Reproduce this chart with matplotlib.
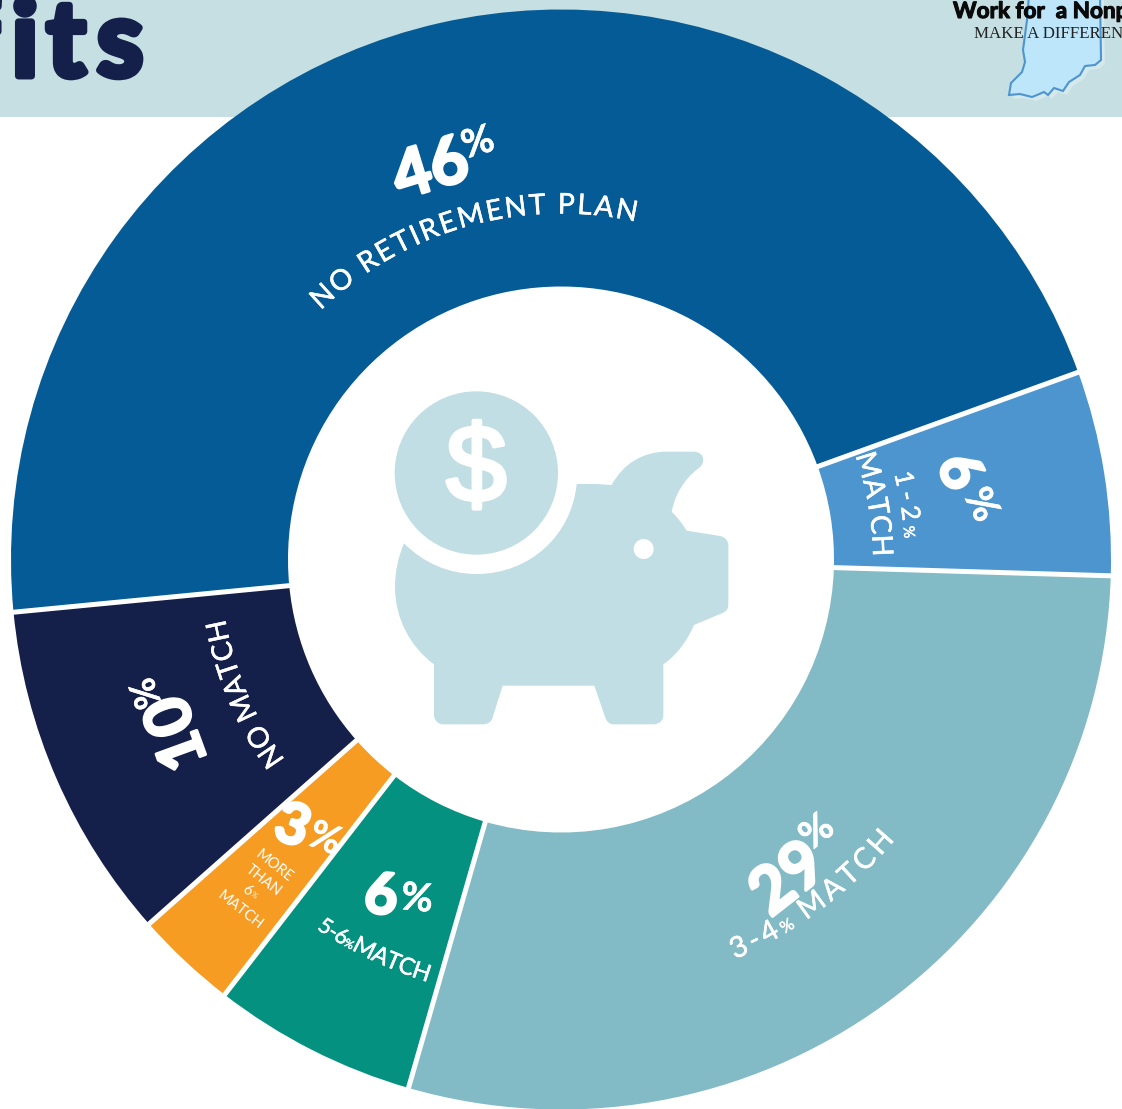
import numpy as np
import matplotlib
matplotlib.use("Agg")
import matplotlib.pyplot as plt
import matplotlib.patheffects as pe
from matplotlib.font_manager import FontProperties
from matplotlib.patches import Circle, PathPatch, Polygon, Rectangle
from matplotlib.path import Path
from matplotlib.textpath import TextPath

# Data
categories = ["NO RETIREMENT PLAN", "1-2% MATCH", "3-4% MATCH", "5-6% MATCH", "MORE THAN 6% MATCH", "NO MATCH"]
values = [46, 6, 29, 6, 3, 10]
colors = ["#045B96", "#4D95CF", "#82BAC5", "#049180", "#F69C23", "#142049"]
title_tail = "fits"
logo_line1 = "Work for  a Nonprofit"
logo_line2 = "MAKE A DIFFERENCE"

W, H = 1122, 1109
CX, CY, R, RI = 561, 559.5, 550, 273
NAVY = "#142049"
ICON = "#C0DEE3"
SANS = "Lato"

fig = plt.figure(figsize=(W / 100, H / 100), dpi=100, facecolor="white")
ax = fig.add_axes([0, 0, 1, 1])


def Y(y):
    return H - y


def stroke(w, color="white"):
    return [pe.withStroke(linewidth=w, foreground=color)]


# Header band
ax.add_patch(Rectangle((0, Y(117)), W, 117, fc="#C5DFE2", ec="none", zorder=1))
for ch, xc in zip(title_tail, [-20, 25, 66, 120]):
    ax.text(xc, Y(76), ch, fontsize=76, family=SANS, weight="bold", color=NAVY, ha="center", va="baseline",
            zorder=2, path_effects=stroke(5, NAVY))

# Logo
state = [(1029, -5), (1027, 20), (1023, 50), (1025, 62), (1022, 72), (1011, 83), (1009, 95), (1020, 94),
         (1032, 97), (1037, 95), (1044, 92), (1048, 95), (1054, 88), (1063, 91), (1069, 82), (1080, 75),
         (1085, 66), (1095, 65), (1101, 60), (1100, -5)]
ax.add_patch(Polygon([(x + 4, Y(y + 4)) for x, y in state], fc="#D5E8EC", ec="none", zorder=2))
ax.add_patch(Polygon([(x, Y(y)) for x, y in state], fc="#BDE6FB", ec="#4D95CF", lw=1.5, zorder=2))
ax.text(953, Y(18), logo_line1, fontsize=16.2, family="Lato", weight="bold", color="#0A0A0A",
        ha="left", va="baseline", zorder=3, path_effects=stroke(0.8, "#0A0A0A"))
ax.text(974, Y(38), logo_line2, fontsize=12.2, family="Liberation Serif", color="#222222",
        ha="left", va="baseline", zorder=3)

# Donut
wedges, _ = ax.pie(values, colors=colors, startangle=185.5, counterclock=False,
                   radius=R, center=(CX, Y(CY)),
                   wedgeprops=dict(width=R - RI, edgecolor="none"))
for w in wedges:
    w.set_zorder(4)
    a = np.radians(w.theta1)
    ax.plot([CX + (RI - 3) * np.cos(a), CX + (R + 3) * np.cos(a)],
            [Y(CY) + (RI - 3) * np.sin(a), Y(CY) + (R + 3) * np.sin(a)],
            color="white", lw=3.6, solid_capstyle="butt", zorder=5)

ax.set_xlim(0, W)
ax.set_ylim(0, H)
ax.set_aspect("equal")
ax.axis("off")


def arc_text(segments, r, a_start, a_end, color="white", thick=0.35):
    """segments: list of (string, fontsize). Angles in degrees, anchored on centre of donut."""
    chars = []
    for s, size in segments:
        fp = FontProperties(family=SANS, size=size)
        for ch in s:
            adv = TextPath((0, 0), "n" + ch + "n", prop=fp).get_extents().width - \
                  TextPath((0, 0), "nn", prop=fp).get_extents().width
            chars.append((ch, size, adv / 0.72))
    total = sum(c[2] for c in chars)
    span = np.radians(abs(a_end - a_start)) * r
    gap = (span - total) / max(len(chars) - 1, 1)
    sgn = 1 if a_end > a_start else -1
    pos = 0.0
    top_out = a_end < a_start
    for ch, size, adv in chars:
        a = a_start + sgn * np.degrees((pos + adv / 2) / r)
        x = CX + r * np.cos(np.radians(a))
        y = CY - r * np.sin(np.radians(a))
        rot = a - 90 if top_out else a + 90
        ax.text(x, Y(y), ch, fontsize=size, family=SANS, color=color, rotation=rot,
                rotation_mode="anchor", ha="center", va="baseline", zorder=6,
                path_effects=stroke(thick, color))
        pos += adv + gap


def big(value, xd, yd, xp, yp, rot, sd, sp):
    ax.text(xd, Y(yd), str(value), fontsize=sd, family=SANS, weight="bold", color="white", rotation=rot,
            rotation_mode="anchor", ha="center", va="center", zorder=6, path_effects=stroke(2.2))
    ax.text(xp, Y(yp), "%", fontsize=sp, family=SANS, weight="bold", color="white", rotation=rot,
            rotation_mode="anchor", ha="center", va="center", zorder=6, path_effects=stroke(0.4))


# Value labels
big(values[0], 431, 171, 478, 143, 17, 47, 28)
big(values[1], 958, 472, 981, 505, -63, 41, 28)
big(values[2], 789, 880, 817, 832, 38, 47, 28)
big(values[3], 381, 897, 417, 899, -5, 41, 28)
big(values[4], 292, 827, 325, 839, -20, 41, 28)
big(values[5], 178, 733, 147, 693, 110, 46, 26)

# Category labels
arc_text([("NO RETIREMENT PLAN", 20.5)], 346, 134, 77.5)
arc_text([("MATCH", 20.5)], 312, 19.5, 0.5)
arc_text([("1-2", 18.5), ("%", 11)], 344, 14.5, 3.5)
arc_text([("3-4", 21), ("%", 12), (" ", 14), ("MATCH", 21)], 436, -66.5, -40)
arc_text([("5-6", 15.5), ("%", 8.5), (" ", 3), ("MATCH", 17)], 443, -123.5, -107.5)

arc_text([("NO MATCH", 20.5)], 341, 216, 190)
small = [("MORE", 274, 866), ("THAN", 263, 881), ("6", 247, 890), ("%", 254, 895), ("MATCH", 240, 910)]
for s, x, y in small:
    ax.text(x, Y(y), s, fontsize=10.5 if s != "%" else 5.5, family=SANS, color="white", rotation=-38,
            rotation_mode="anchor", ha="center", va="center", zorder=6)


# Piggy icon, coordinates in a local icon grid
def P(px, py):
    return (380 + px / 3, Y(380 + py / 3))


M, L, C = Path.MOVETO, Path.LINETO, Path.CURVE4
coin_c = (289, 279)
pts = [
    ((590, 312), M), ((650, 312), L), ((695, 315), L),
    ((730, 250), C), ((790, 215), C), ((860, 215), C),
    ((940, 215), L),
    ((975, 215), C), ((978, 250), C), ((955, 265), C),
    ((910, 300), C), ((885, 345), C), ((875, 395), C),
    ((892, 412), C), ((908, 432), C), ((920, 452), C),
    ((1020, 468), L),
    ((1035, 471), C), ((1045, 482), C), ((1045, 495), C),
    ((1045, 675), L),
    ((1045, 688), C), ((1037, 695), C), ((1025, 700), C),
    ((942, 735), L),
    ((920, 785), C), ((890, 825), C), ((850, 853), C),
    ((850, 1005), L),
    ((850, 1022), C), ((837, 1033), C), ((820, 1033), C),
    ((700, 1033), L),
    ((688, 1033), C), ((679, 1024), C), ((675, 1010), C),
    ((643, 917), L), ((368, 917), L), ((337, 1015), L),
    ((333, 1026), C), ((322, 1033), C), ((310, 1033), C),
    ((190, 1033), L),
    ((175, 1033), C), ((162, 1022), C), ((162, 1005), C),
    ((162, 853), L),
    ((90, 800), C), ((45, 715), C), ((45, 620), C),
    ((45, 575), C), ((55, 530), C), ((72, 490), C),
    ((130, 548), C), ((205, 582), C), ((289, 582), C),
    ((450, 582), C), ((575, 465), C), ((590, 312), C),
]
ax.add_patch(PathPatch(Path([P(*p) for p, _ in pts], [c for _, c in pts]), fc=ICON, ec="none", zorder=5))
ax.add_patch(Circle(P(*coin_c), 245 / 3, fc=ICON, ec="none", zorder=5))
ax.add_patch(Circle(P(791, 507), 30 / 3, fc="white", ec="none", zorder=6))
ax.text(*P(289, 279), "$", fontsize=78, family="Liberation Sans", color="white",
        ha="center", va="center", zorder=6, path_effects=stroke(3))

fig.savefig("out.png", dpi=100)
